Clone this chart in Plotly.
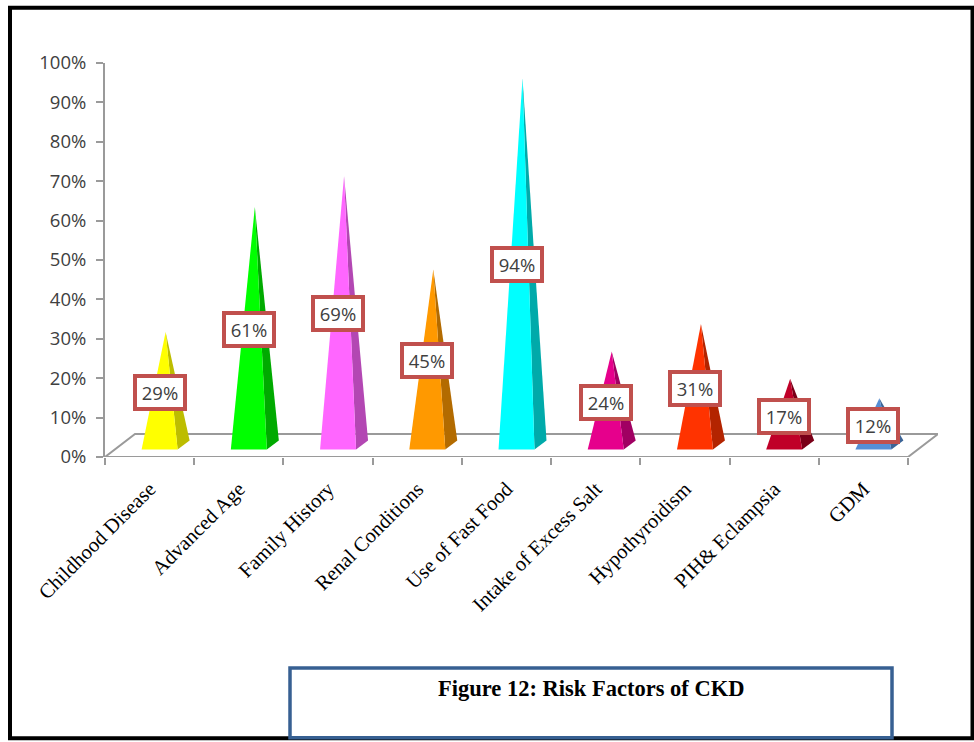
import plotly.graph_objects as go

categories = ["Childhood Disease", "Advanced Age", "Family History", "Renal Conditions",
              "Use of Fast Food", "Intake of Excess Salt", "Hypothyroidism", "PIH& Eclampsia", "GDM"]
values = [29, 61, 69, 45, 94, 24, 31, 17, 12]
front_colors = ["#FFFF00", "#00FF00", "#FF66FF", "#FF9900", "#00FFFF", "#E6008C", "#FF3300", "#C00028", "#558ED5"]
side_colors = ["#BDBD00", "#00AA00", "#B347B3", "#B36B00", "#00AAAA", "#A00062", "#B32400", "#7A0018", "#3C6496"]
y_ticks = list(range(0, 101, 10))
caption = "Figure 12: Risk Factors of CKD"

W, H = 974, 742
L, R, T, B = 105, 938, 62.5, 457.5
cat_px = (908 - 105) / 9
pct_px = (B - T) / 100
depth_x = 30 / cat_px
depth_y = 23 / pct_px
px = lambda v: (v - L) / (R - L)
py = lambda v: (B - v) / (B - T)

half_w = 18 / cat_px
side_w = 12 / cat_px
base_y = 7.5 / pct_px
side_y = 9 / pct_px
shift = 10 / cat_px
rise = 0.99

fig = go.Figure()
for i, (v, fc, sc) in enumerate(zip(values, front_colors, side_colors)):
    c = i + 0.5 + shift
    ax, ay = c + side_w / 2, v * rise + base_y + side_y / 2
    fig.add_trace(go.Scatter(x=[c + half_w, c + half_w + side_w, ax, c + half_w],
                             y=[base_y, base_y + side_y, ay, base_y],
                             mode="lines", fill="toself", fillcolor=sc, line=dict(width=0),
                             hoverinfo="skip", showlegend=False))
    fig.add_trace(go.Scatter(x=[c - half_w, c + half_w, ax, c - half_w],
                             y=[base_y, base_y, ay, base_y],
                             mode="lines", fill="toself", fillcolor=fc, line=dict(width=0),
                             hoverinfo="skip", showlegend=False))
    fig.add_annotation(x=c, y=base_y + v / 2, text=f"{v}%", showarrow=False,
                       font=dict(family="Open Sans", size=18.5, color="#404040"),
                       bgcolor="white", bordercolor="#C0504D", borderwidth=4,
                       width=44, height=27, borderpad=1)

n = len(categories)
grey = "#9A9A9A"
shapes = [
    dict(type="path", xref="x", yref="y", layer="below", line=dict(color=grey, width=2),
         path=f"M 0 0 L {n} 0 L {n + depth_x} {depth_y} L {depth_x} {depth_y} Z"),
    dict(type="rect", xref="paper", yref="paper", line=dict(color="black", width=4), fillcolor="rgba(0,0,0,0)",
         x0=px(10), x1=px(972.5), y0=py(7), y1=py(739.5)),
    dict(type="rect", xref="paper", yref="paper", line=dict(color="#376092", width=3.5), fillcolor="white",
         x0=px(290), x1=px(892), y0=py(669), y1=py(739)),
]
fig.add_annotation(xref="paper", yref="paper", x=px(590.5), y=py(690), yanchor="middle", xanchor="center",
                   text=f"<b>{caption}</b>", showarrow=False,
                   font=dict(family="Liberation Serif", size=22.5, color="black"))

fig.update_layout(
    width=W, height=H, margin=dict(l=L, r=W - R, t=T, b=H - B),
    paper_bgcolor="white", plot_bgcolor="white", showlegend=False, shapes=shapes,
    xaxis=dict(range=[0, n + depth_x], tickmode="array", tickvals=[i + 0.5 for i in range(n)],
               ticktext=categories, tickangle=-45, ticks="", showline=False,
               showgrid=False, zeroline=False, fixedrange=True, ticklabelstandoff=15,
               tickfont=dict(family="Liberation Serif", size=20.5, color="black"),
               minor=dict(tickmode="array", tickvals=list(range(n + 1)), ticks="outside",
                          ticklen=7, tickwidth=2, tickcolor=grey, showgrid=False)),
    yaxis=dict(range=[0, 100], tickmode="array", tickvals=y_ticks, ticktext=[f"{t}%" for t in y_ticks],
               ticks="outside", ticklen=7, tickwidth=2, tickcolor=grey, showline=True, linecolor=grey,
               linewidth=2, showgrid=False, zeroline=False, fixedrange=True,
               ticklabelstandoff=6,
               tickfont=dict(family="Open Sans", size=18.5, color="#404040")),
)
fig.write_html("out.html", config=dict(displayModeBar=False),
               post_script="document.body.style.margin='0';document.body.style.overflow='hidden';")
